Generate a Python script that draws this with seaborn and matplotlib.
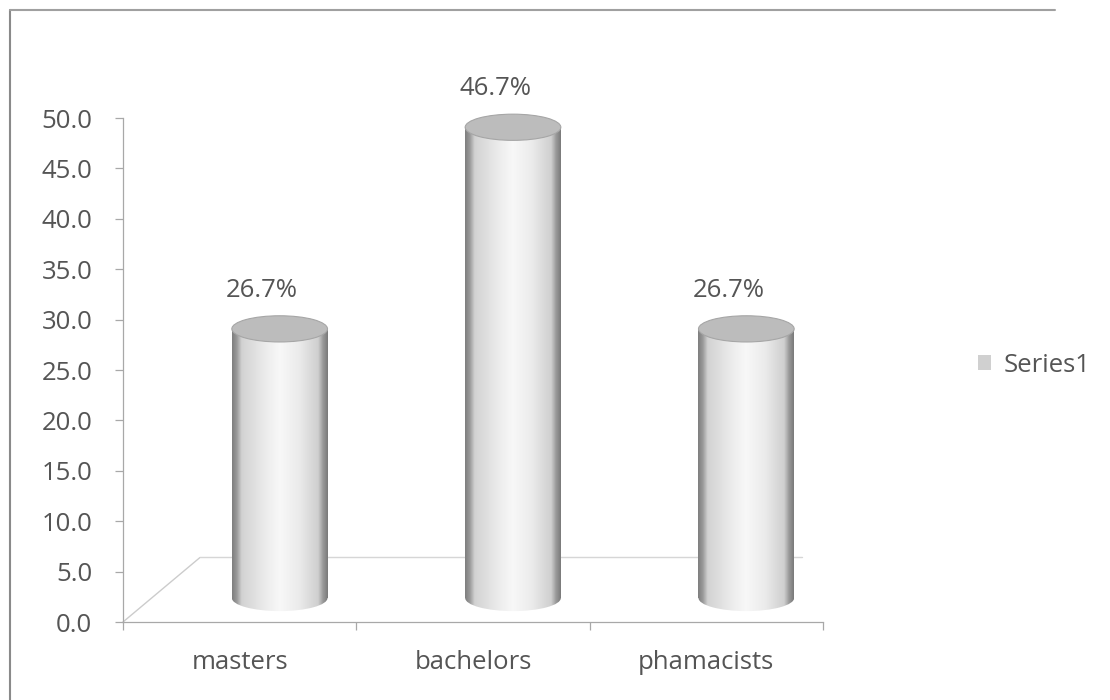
import numpy as np
import pandas as pd
import matplotlib
matplotlib.use("Agg")
import matplotlib.pyplot as plt
import matplotlib.transforms as mtrans
from matplotlib.patches import Ellipse, Rectangle
from matplotlib.colors import LinearSegmentedColormap
import seaborn as sns

# ---- data ----
categories = ["masters", "bachelors", "phamacists"]
values = [26.7, 46.7, 26.7]
series_name = ["Series1", "Series1", "Series1"]
data_labels = ["26.7%", "46.7%", "26.7%"]
y_ticks = [0, 5, 10, 15, 20, 25, 30, 35, 40, 45, 50]

df = pd.DataFrame({"category": categories, "value": values, "series": series_name})

sns.set_theme(style="white")
plt.rcParams["font.family"] = ["Open Sans", "DejaVu Sans"]

TXT = "#555555"
fig = plt.figure(figsize=(11.1, 7.0), dpi=100)
fig.patch.set_facecolor("white")
ax = fig.add_axes([123 / 1110, 1 - 622 / 700, 700 / 1110, (622 - 118) / 700])

sns.barplot(data=df, x="category", y="value", hue="series", palette=["#d4d4d4"],
            width=0.41, dodge=False, ax=ax, legend=True, edgecolor="none")

ax.set_ylim(0, 50)
ax.set_xlim(-0.5, 2.5)
ax.set_yticks(y_ticks)
ax.set_yticklabels([f"{v:.1f}" for v in y_ticks])
ax.set_xlabel("")
ax.set_ylabel("")

for s in ["top", "right"]:
    ax.spines[s].set_visible(False)
for s in ["left", "bottom"]:
    ax.spines[s].set_color("#a8a8a8")
    ax.spines[s].set_linewidth(0.9)

ax.tick_params(axis="y", which="both", left=True, length=6, width=0.9, color="#a8a8a8",
               labelsize=18.5, labelcolor=TXT, pad=16)
ax.tick_params(axis="x", bottom=False, labelsize=18.5, labelcolor=TXT, pad=14)
ax.set_xticks([-0.5, 0.5, 1.5, 2.5], minor=True)
ax.tick_params(axis="x", which="minor", bottom=True, length=6, width=0.9, color="#a8a8a8")

# 3D floor hints
ax.plot([0.0, 0.11], [0.0, 0.128], transform=ax.transAxes, color="#cccccc", lw=1.0,
        clip_on=False, zorder=0.5)
ax.plot([0.11, 0.97], [0.128, 0.128], transform=ax.transAxes, color="#d6d6d6", lw=1.0,
        clip_on=False, zorder=0.5)

# cylinder styling
offset = mtrans.ScaledTranslation(40 / 100, 24 / 100, fig.dpi_scale_trans)
trans = ax.transData + offset
cmap = LinearSegmentedColormap.from_list(
    "cyl", [(0.0, "#7e7e7e"), (0.05, "#9a9a9a"), (0.1, "#d2d2d2"), (0.35, "#ececec"),
            (0.5, "#f8f8f8"), (0.7, "#ebebeb"), (0.9, "#cfcfcf"), (0.95, "#9a9a9a"),
            (1.0, "#7a7a7a")])
grad = np.linspace(0, 1, 256).reshape(1, -1)
ell_h = 2.6

bars = [p for p in ax.patches if isinstance(p, Rectangle) and p.get_height() > 0]
for i, p in enumerate(bars):
    x0, w, h = p.get_x(), p.get_width(), p.get_height()
    p.set_transform(trans)
    p.set_zorder(2)
    p.set_facecolor("none")
    p.set_clip_on(False)
    body = Rectangle((x0, 0), w, h, transform=trans, facecolor="none", edgecolor="none")
    ax.add_patch(body)
    bottom = Ellipse((x0 + w / 2, 0), w, ell_h, transform=trans, facecolor="none",
                     edgecolor="none")
    ax.add_patch(bottom)
    for clip in (body, bottom):
        im = ax.imshow(grad, cmap=cmap, aspect="auto",
                       extent=[x0, x0 + w, -ell_h, h], transform=trans, zorder=2,
                       interpolation="bilinear")
        im.set_clip_path(clip)
    top = Ellipse((x0 + w / 2, h), w, ell_h, transform=trans, facecolor="#bcbcbc",
                  edgecolor="#a6a6a6", lw=0.8, zorder=3, clip_on=False)
    ax.add_patch(top)
    ax.annotate(data_labels[i], (x0 + w / 2, h), xytext=(16, 36),
                textcoords="offset points", ha="center", va="bottom",
                fontsize=18.5, color=TXT, annotation_clip=False)

ax.set_ylim(0, 50)
ax.set_xlim(-0.5, 2.5)

leg = ax.legend(loc="center left", bbox_to_anchor=(955 / 1110, 1 - 365 / 700),
                bbox_transform=fig.transFigure, frameon=False, fontsize=18.5,
                handlelength=0.5, handleheight=0.5, handletextpad=0.5, labelcolor=TXT)
for h_ in leg.legend_handles:
    h_.set_facecolor("#d0d0d0")

# chart area border (left/top)
fig.add_artist(plt.Line2D([10 / 1110, 10 / 1110], [1 - 10 / 700, 0.0], color="#8a8a8a", lw=1.5))
fig.add_artist(plt.Line2D([10 / 1110, 0.95], [1 - 10 / 700, 1 - 10 / 700], color="#a0a0a0", lw=1.5))

fig.savefig("out.png", dpi=100, facecolor="white")
